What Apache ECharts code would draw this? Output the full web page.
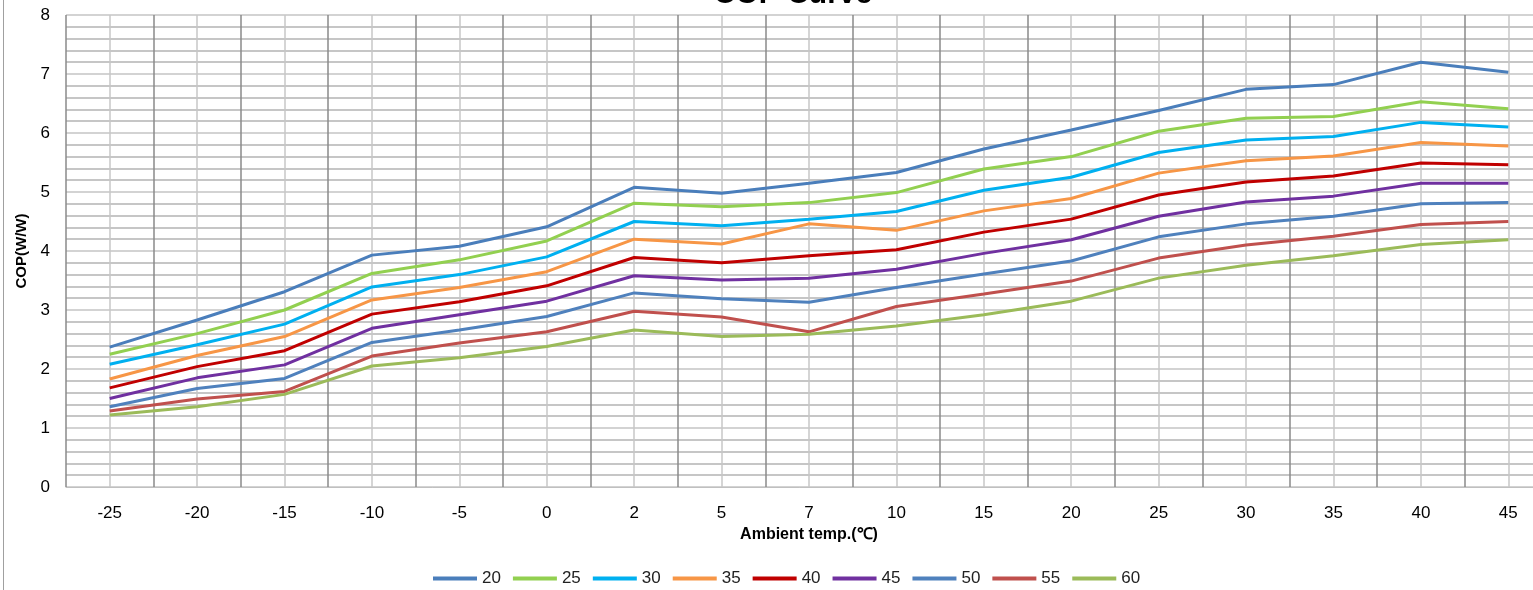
<!DOCTYPE html>
<html>
<head>
<meta charset="utf-8">
<script src="https://cdn.jsdelivr.net/npm/echarts@6/dist/echarts.min.js"></script>
<style>html,body{margin:0;padding:0;background:#fff;}#c{width:1533px;height:590px;}</style>
</head>
<body>
<div id="c"></div>
<script>
const categories = ['-25','-20','-15','-10','-5','0','2','5','7','10','15','20','25','30','35','40','45'];
const seriesNames = ['20','25','30','35','40','45','50','55','60'];
const s20 = [2.37,2.83,3.31,3.93,4.08,4.41,5.08,4.98,5.15,5.33,5.73,6.05,6.38,6.74,6.82,7.20,7.03];
const s25 = [2.25,2.60,3.00,3.62,3.85,4.17,4.81,4.75,4.82,4.99,5.39,5.60,6.03,6.25,6.28,6.53,6.41];
const s30 = [2.08,2.41,2.76,3.39,3.60,3.90,4.50,4.43,4.54,4.67,5.03,5.25,5.67,5.88,5.94,6.18,6.10];
const s35 = [1.83,2.23,2.55,3.17,3.38,3.65,4.20,4.12,4.46,4.35,4.68,4.89,5.32,5.53,5.61,5.84,5.78];
const s40 = [1.68,2.04,2.31,2.93,3.14,3.41,3.89,3.80,3.92,4.02,4.32,4.54,4.95,5.17,5.27,5.49,5.46];
const s45 = [1.50,1.85,2.07,2.69,2.92,3.15,3.58,3.51,3.54,3.69,3.96,4.19,4.59,4.83,4.93,5.15,5.15];
const s50 = [1.36,1.67,1.84,2.45,2.66,2.89,3.29,3.19,3.13,3.38,3.61,3.83,4.24,4.46,4.59,4.80,4.82];
const s55 = [1.29,1.49,1.62,2.22,2.44,2.63,2.98,2.88,2.63,3.06,3.27,3.49,3.88,4.10,4.25,4.45,4.50];
const s60 = [1.22,1.36,1.57,2.05,2.19,2.38,2.66,2.55,2.59,2.73,2.92,3.15,3.54,3.76,3.92,4.11,4.19];
const seriesData = [s20,s25,s30,s35,s40,s45,s50,s55,s60];
const colors = ['#4a7ebb','#92d050','#00b0f0','#f79646','#c00000','#7030a0','#4f81bd','#c0504d','#9bbb59'];

const FONT = 'Liberation Sans, sans-serif';
const chart = echarts.init(document.getElementById('c'));
chart.setOption({
  animation: false,
  color: colors,
  graphic: [
    {type:'line', shape:{x1:3.5,y1:0,x2:3.5,y2:590}, style:{stroke:'#a0a0a0', lineWidth:1}},
    {type:'text', x:793, y:10, style:{text:'COP Curve', fontSize:30, fontWeight:'bold', fontFamily:FONT, fill:'#000', align:'center', verticalAlign:'bottom'}}
  ],
  grid: {left:66, width:1486, top:15, height:472, outerBoundsMode:'none', containLabel:false},
  legend: {
    data: seriesNames, left: 428, top: 565, icon: 'rect', itemWidth: 44, itemHeight: 4, itemGap: 12,
    textStyle: {fontSize:17, fontFamily:FONT, color:'#222'}
  },
  xAxis: [
    {
      type:'category', data: categories, boundaryGap: true,
      axisLine:{show:true, lineStyle:{color:'#c0c0c0'}}, axisTick:{show:false},
      axisLabel:{fontSize:17, fontFamily:FONT, color:'#000', margin:18},
      splitLine:{show:false},
      name:'Ambient temp.(℃)', nameLocation:'middle', nameGap:31,
      nameTextStyle:{fontSize:16, fontWeight:'bold', fontFamily:FONT, color:'#000'}
    },
    {
      type:'value', min:0, max:17, interval:1, position:'bottom',
      axisLine:{show:false}, axisTick:{show:false}, axisLabel:{show:false},
      splitLine:{show:true, lineStyle:{color:'#8a8a8a', width:1.5}},
      minorTick:{show:false, splitNumber:2},
      minorSplitLine:{show:true, lineStyle:{color:'#c8c8c8', width:1.5}}
    }
  ],
  yAxis: {
    type:'value', min:0, max:8, interval:1,
    axisLine:{show:false}, axisTick:{show:false},
    axisLabel:{fontSize:17, fontFamily:FONT, color:'#000', margin:16},
    splitLine:{show:true, lineStyle:{color:'#c4c4c4', width:1.5}},
    minorTick:{show:false, splitNumber:5},
    minorSplitLine:{show:true, lineStyle:{color:'#b4b4b4', width:1.5}},
    name:'COP(W/W)', nameLocation:'middle', nameGap:37,
    nameTextStyle:{fontSize:15, fontWeight:'bold', fontFamily:FONT, color:'#000'}
  },
  series: seriesNames.map((n,i)=>({
    name:n, type:'line', xAxisIndex:0, data: seriesData[i], symbol:'none',
    lineStyle:{width:3, color:colors[i]}, itemStyle:{color:colors[i]}
  }))
});
</script>
</body>
</html>
